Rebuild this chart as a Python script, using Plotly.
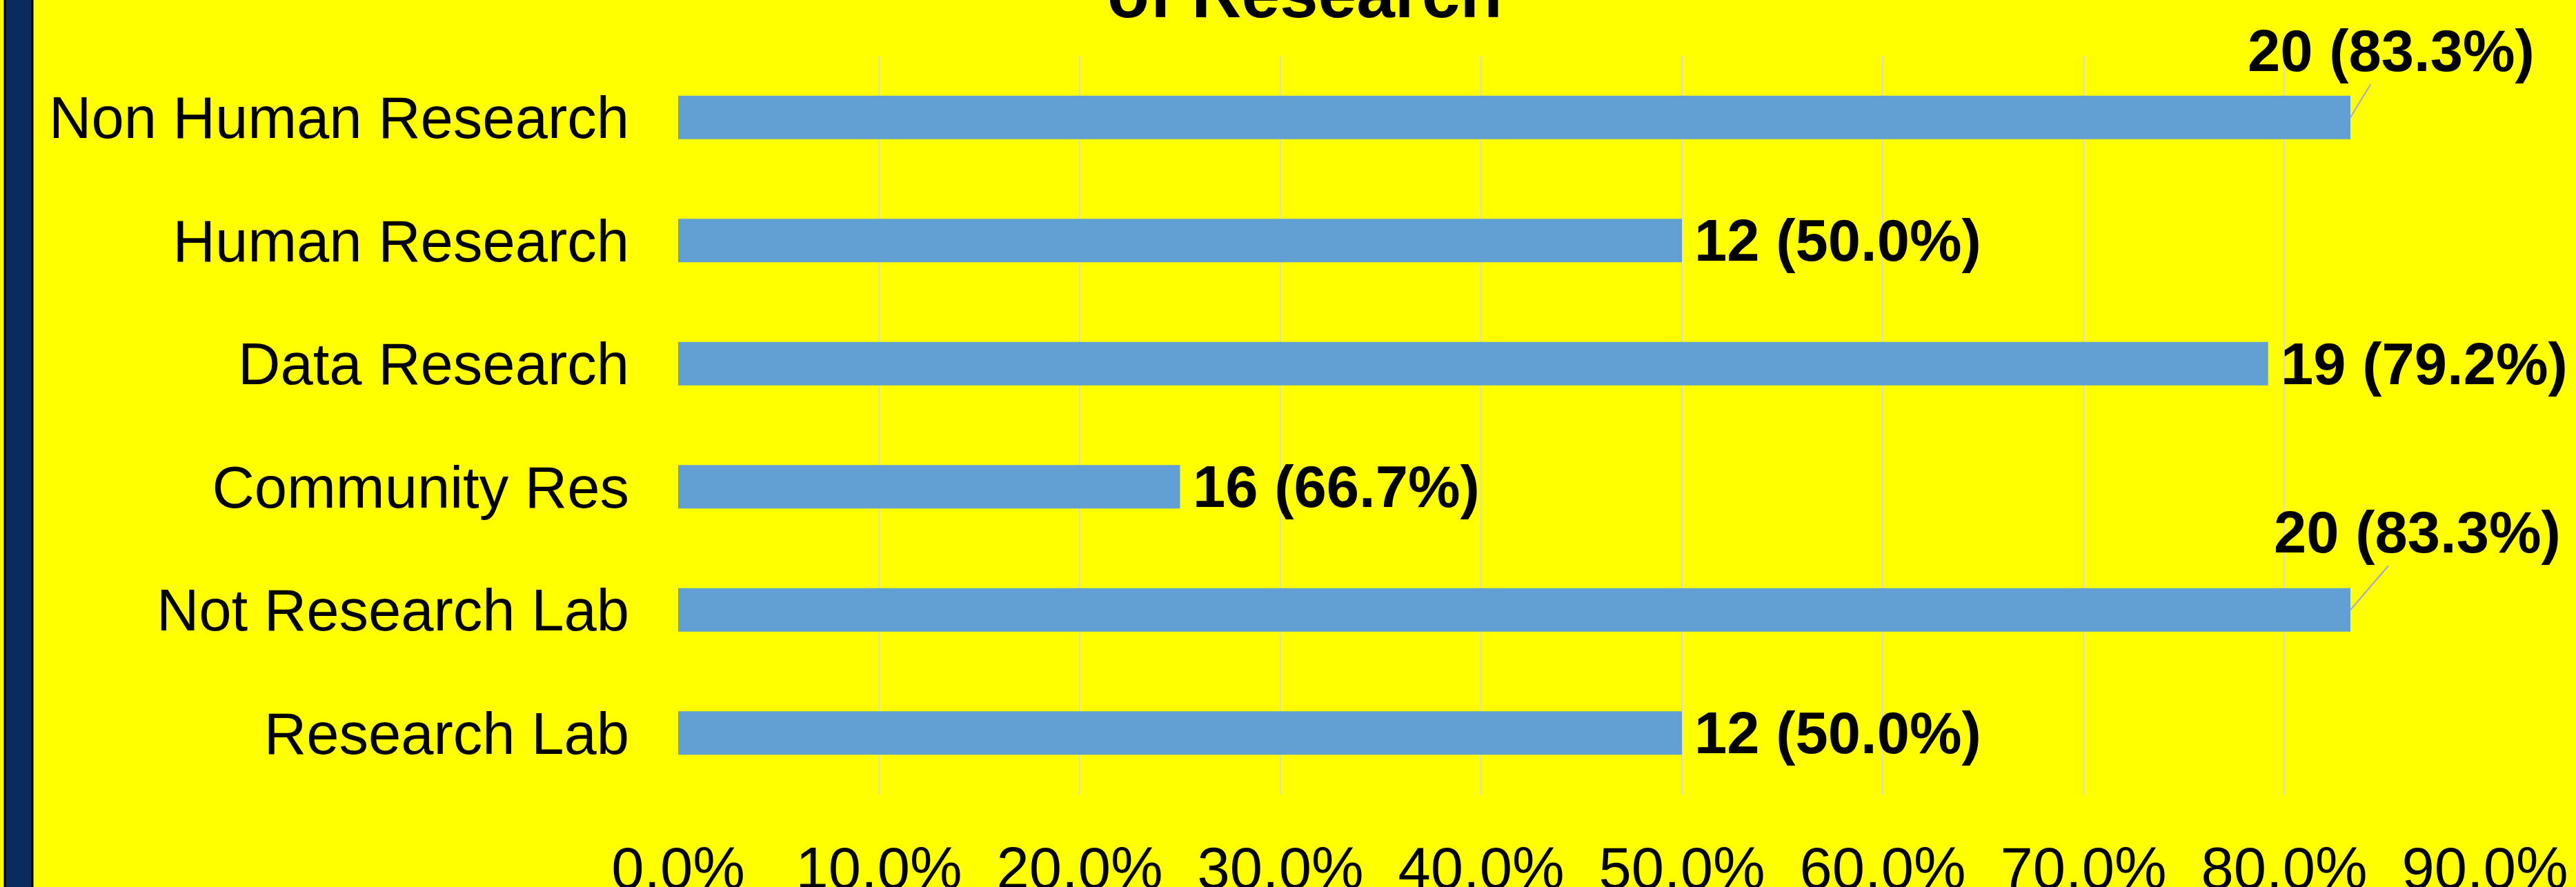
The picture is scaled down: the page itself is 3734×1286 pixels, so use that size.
import plotly.graph_objects as go

# ---- data ----
categories = ["Non Human Research", "Human Research", "Data Research",
              "Community Res", "Not Research Lab", "Research Lab"]
values = [0.833, 0.500, 0.792, 0.250, 0.833, 0.500]
labels = ["20 (83.3%)", "12 (50.0%)", "19 (79.2%)", "16 (66.7%)", "20 (83.3%)", "12 (50.0%)"]
x_ticks = [0.0, 0.1, 0.2, 0.3, 0.4, 0.5, 0.6, 0.7, 0.8, 0.9]
x_tick_labels = ["0.0%", "10.0%", "20.0%", "30.0%", "40.0%", "50.0%", "60.0%", "70.0%", "80.0%", "90.0%"]
title_text = "of Research"

# ---- style ----
W, H = 3734, 1286
BG = "#FFFF00"
BAR = "#629FD2"
FONT = "Arial, Liberation Sans, sans-serif"
# callout offsets (pixels) for labels that are moved above the bar end
callouts = {0: (59, -97), 4: (97, -113)}

fig = go.Figure()
fig.add_trace(go.Bar(
    y=categories, x=values, orientation="h",
    marker=dict(color=BAR, line=dict(width=0)),
    width=0.353, hoverinfo="skip", showlegend=False,
))

annotations = []
for i, (c, v, t) in enumerate(zip(categories, values, labels)):
    if i in callouts:
        ax, ay = callouts[i]
        annotations.append(dict(
            x=v, y=c, xref="x", yref="y", text=t, showarrow=True,
            arrowhead=0, arrowwidth=2, arrowcolor="#A3A8D8", ax=ax, ay=ay,
            font=dict(family=FONT, size=85, color="black", weight="bold"),
        ))
    else:
        annotations.append(dict(
            x=v, y=c, xref="x", yref="y", text=t, showarrow=False,
            xanchor="left", yanchor="middle", xshift=16, yshift=0,
            font=dict(family=FONT, size=85, color="black", weight="bold"),
        ))

annotations.append(dict(
    x=(1891 - 983) / 2619, y=(1152 - 26) / 1071, xref="paper", yref="paper",
    text=title_text, showarrow=False, xanchor="center", yanchor="bottom",
    yshift=-22,
    font=dict(family=FONT, size=100, color="black", weight="bold"),
))

fig.update_layout(
    width=W, height=H,
    paper_bgcolor=BG, plot_bgcolor=BG,
    margin=dict(l=983, r=132, t=81, b=134, pad=0),
    bargap=0.647,
    annotations=annotations,
    shapes=[dict(type="rect", xref="paper", yref="paper",
                 x0=(7 - 983) / 2619, x1=(47 - 983) / 2619,
                 y0=-2, y1=2, fillcolor="#0B2A5E",
                 line=dict(color="black", width=3), layer="above")],
    xaxis=dict(
        range=[0, 0.9], tickvals=x_ticks, ticktext=x_tick_labels,
        showgrid=True, gridcolor="#D9D9D9", gridwidth=1.5,
        zeroline=False, showline=False, ticks="",
        tickfont=dict(family=FONT, size=85, color="black"),
        ticklabelstandoff=50, automargin=False, fixedrange=True,
    ),
    yaxis=dict(
        autorange="reversed", showgrid=False, zeroline=False, showline=False,
        ticks="", tickfont=dict(family=FONT, size=85, color="black"),
        ticklabelstandoff=70, automargin=False, fixedrange=True,
    ),
)

fig.write_html(
    "out.html", config={"displayModeBar": False},
    post_script="document.body.style.margin='0';document.body.style.overflow='hidden';",
)
